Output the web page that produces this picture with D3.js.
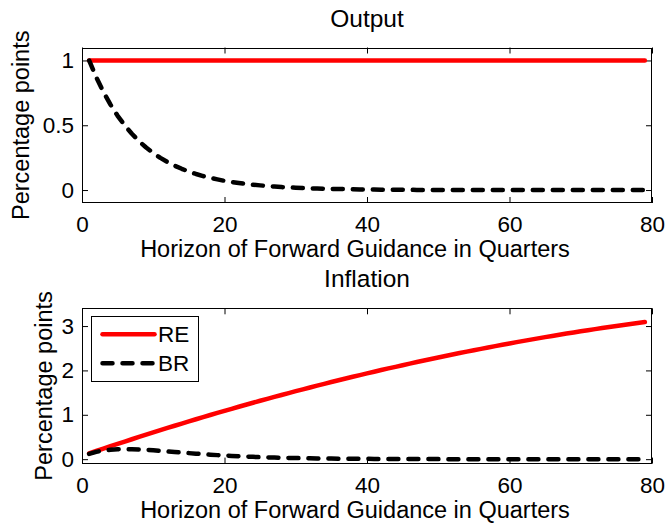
<!DOCTYPE html>
<html>
<head>
<meta charset="utf-8">
<script src="https://cdn.jsdelivr.net/npm/d3@7"></script>
<style>
  html, body { margin: 0; padding: 0; background: #fff; }
  svg { display: block; }
  text { font-family: "Liberation Sans", Arial, Helvetica, sans-serif; fill: #000; }
</style>
</head>
<body>
<svg id="chart" width="665" height="524"></svg>
<script>
// ---------------- data ----------------
const quarters = d3.range(1, 80); // horizons 1..79
const xTicks = [0, 20, 40, 60, 80];
const outputTicks = [0, 0.5, 1];
const inflationTicks = [0, 1, 2, 3];
const seriesNames = ["RE", "BR"];

const outputRE = [
  1,1,1,1,1,1,1,1,1,1, 1,1,1,1,1,1,1,1,1,1,
  1,1,1,1,1,1,1,1,1,1, 1,1,1,1,1,1,1,1,1,1,
  1,1,1,1,1,1,1,1,1,1, 1,1,1,1,1,1,1,1,1,1,
  1,1,1,1,1,1,1,1,1,1, 1,1,1,1,1,1,1,1,1
];
const outputBR = [
  1.000,0.870,0.757,0.659,0.573,0.499,0.434,0.377,0.328,0.286,
  0.248,0.216,0.188,0.164,0.142,0.124,0.108,0.094,0.082,0.071,
  0.062,0.054,0.047,0.041,0.036,0.031,0.027,0.023,0.020,0.018,
  0.015,0.013,0.012,0.010,0.009,0.008,0.007,0.006,0.005,0.004,
  0.004,0.003,0.003,0.002,0.002,0.002,0.001,0.001,0.001,0.001,
  0,0,0,0,0,0,0,0,0,0, 0,0,0,0,0,0,0,0,0,0, 0,0,0,0,0,0,0,0,0
];
const inflationRE = [
  0.130,0.184,0.238,0.292,0.345,0.397,0.449,0.501,0.552,0.603,
  0.654,0.704,0.753,0.803,0.851,0.900,0.948,0.995,1.042,1.089,
  1.135,1.181,1.226,1.271,1.316,1.360,1.404,1.447,1.490,1.532,
  1.574,1.616,1.657,1.698,1.738,1.778,1.817,1.856,1.895,1.933,
  1.971,2.008,2.045,2.081,2.118,2.153,2.189,2.223,2.258,2.292,
  2.325,2.358,2.391,2.423,2.455,2.486,2.517,2.548,2.578,2.607,
  2.637,2.666,2.694,2.722,2.750,2.777,2.804,2.830,2.856,2.881,
  2.906,2.931,2.955,2.979,3.002,3.025,3.048,3.070,3.091
];
const inflationBR = [
  0.120,0.165,0.195,0.212,0.222,0.226,0.225,0.220,0.210,0.200,
  0.185,0.172,0.160,0.148,0.136,0.124,0.112,0.101,0.091,0.082,
  0.073,0.065,0.058,0.052,0.046,0.041,0.036,0.032,0.028,0.025,
  0.022,0.019,0.017,0.015,0.013,0.011,0.010,0.009,0.008,0.007,
  0.006,0.005,0.004,0.004,0.003,0.003,0.002,0.002,0.002,0.001,
  0,0,0,0,0,0,0,0,0,0, 0,0,0,0,0,0,0,0,0,0, 0,0,0,0,0,0,0,0,0
];

// ---------------- layout ----------------
const svg = d3.select("#chart");
const TICK_FONT = 22.5, LABEL_FONT = 23.5, TITLE_FONT = 24.5;
const left = 82, right = 652;
const panels = [
  { title: "Output", top: 47.5, bottom: 203, domain: [-0.1, 1.1], ticks: outputTicks,
    re: outputRE, br: outputBR, legend: false, ylabX: 29, fmt: d => d === 0.5 ? "0.5" : String(d) },
  { title: "Inflation", top: 308.3, bottom: 463.6, domain: [-0.1, 3.4], ticks: inflationTicks,
    re: inflationRE, br: inflationBR, legend: true, ylabX: 51.5, fmt: d => String(d) }
];

const x = d3.scaleLinear().domain([0, 80]).range([left, right]);

panels.forEach(p => {
  const y = d3.scaleLinear().domain(p.domain).range([p.bottom, p.top]);
  const g = svg.append("g");

  g.append("rect").attr("x", left).attr("y", p.top)
    .attr("width", right - left).attr("height", p.bottom - p.top).attr("fill", "#fff");

  const styleAxis = sel => {
    sel.selectAll(".domain").remove();
    sel.selectAll(".tick line").attr("stroke", "#000");
    sel.selectAll("text").attr("font-size", TICK_FONT).attr("fill", "#000")
      .style("font-family", '"Liberation Sans", Arial, Helvetica, sans-serif');
  };

  g.append("g").attr("transform", `translate(0,${p.bottom})`)
    .call(d3.axisBottom(x).tickValues(xTicks).tickSize(-6).tickPadding(13).tickFormat(d3.format("d")))
    .call(styleAxis);
  g.append("g").attr("transform", `translate(0,${p.top})`)
    .call(d3.axisTop(x).tickValues(xTicks).tickSize(-6).tickFormat(""))
    .call(styleAxis);
  g.append("g").attr("transform", `translate(${left},0)`)
    .call(d3.axisLeft(y).tickValues(p.ticks).tickSize(-6).tickPadding(8).tickFormat(p.fmt))
    .call(styleAxis);
  g.append("g").attr("transform", `translate(${right},0)`)
    .call(d3.axisRight(y).tickValues(p.ticks).tickSize(-6).tickFormat(""))
    .call(styleAxis);

  g.append("rect").attr("x", left + 0.5).attr("y", Math.round(p.top) + 0.5)
    .attr("width", right - left - 1).attr("height", Math.round(p.bottom) - Math.round(p.top) - 1)
    .attr("fill", "none").attr("stroke", "#000").attr("stroke-width", 1);

  const line = d3.line().x((d, i) => x(quarters[i])).y(d => y(d));

  g.append("path").datum(p.re).attr("d", line)
    .attr("fill", "none").attr("stroke", "#ff0000").attr("stroke-width", 4.5)
    .attr("stroke-linecap", "round").attr("stroke-linejoin", "round");
  g.append("path").datum(p.br).attr("d", line)
    .attr("fill", "none").attr("stroke", "#000").attr("stroke-width", 4.5)
    .attr("stroke-dasharray", "10,10").attr("stroke-linecap", "round").attr("stroke-linejoin", "round");

  svg.append("text").attr("x", (left + right) / 2).attr("y", p.top - 21)
    .attr("text-anchor", "middle").attr("font-size", TITLE_FONT).text(p.title);
  svg.append("text").attr("x", 355).attr("y", p.bottom + 54)
    .attr("text-anchor", "middle").attr("font-size", LABEL_FONT).text("Horizon of Forward Guidance in Quarters");
  svg.append("text")
    .attr("transform", `translate(${p.ylabX},${(p.top + p.bottom) / 2}) rotate(-90)`)
    .attr("text-anchor", "middle").attr("font-size", LABEL_FONT).text("Percentage points");

  if (p.legend) {
    const lg = svg.append("g");
    lg.append("rect").attr("x", 91.5).attr("y", 316.5).attr("width", 107).attr("height", 65)
      .attr("fill", "#fff").attr("stroke", "#000").attr("stroke-width", 1);
    const items = [
      { name: seriesNames[0], color: "#ff0000", dash: null, yy: 334.3 },
      { name: seriesNames[1], color: "#000", dash: "10,10", yy: 363.3 }
    ];
    items.forEach(it => {
      lg.append("line").attr("x1", 102.5).attr("x2", 154.5).attr("y1", it.yy).attr("y2", it.yy)
        .attr("stroke", it.color).attr("stroke-width", 4.5).attr("stroke-linecap", "round")
        .attr("stroke-dasharray", it.dash);
      lg.append("text").attr("x", 158).attr("y", it.yy + 8).attr("font-size", TICK_FONT).text(it.name);
    });
  }
});
</script>
</body>
</html>
